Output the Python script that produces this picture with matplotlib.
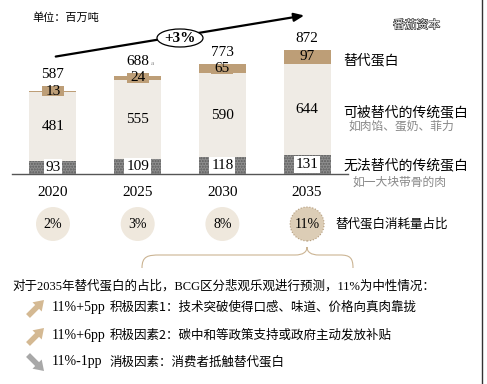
import matplotlib
matplotlib.use("Agg")
import matplotlib.pyplot as plt
from matplotlib.patches import Ellipse, Polygon, PathPatch
from matplotlib.path import Path
import matplotlib.patheffects as pe

# ---------------- data ----------------
years = ["2020", "2025", "2030", "2035"]
non_sub = [93, 109, 118, 131]          # 无法替代的传统蛋白
subst_trad = [481, 555, 590, 644]      # 可被替代的传统蛋白
alt_protein = [13, 24, 65, 97]         # 替代蛋白
totals = [587, 688, 773, 872]
share_labels = ["2%", "3%", "8%", "11%"]
cagr_label = "+3%"
series_labels = ["替代蛋白", "可被替代的传统蛋白", "无法替代的传统蛋白"]
series_sub = ["", "如肉馅、蛋奶、菲力", "如一大块带骨的肉"]
share_title = "替代蛋白消耗量占比"
note_title = "对于2035年替代蛋白的占比，BCG区分悲观乐观进行预测，11%为中性情况："
scen_vals = ["11%+5pp", "11%+6pp", "11%-1pp"]
scen_text = ["积极因素1：技术突破使得口感、味道、价格向真肉靠拢",
             "积极因素2：碳中和等政策支持或政府主动发放补贴",
             "消极因素：消费者抵触替代蛋白"]
scen_up = [True, True, False]

SERIF = ["Liberation Serif", "Noto Sans CJK SC"]
CJK = ["Noto Sans CJK SC", "DejaVu Sans"]
TAN = "#bd9e77"
LIGHT = "#efebe5"
GRAYC = "#8e8e8e"

W, H = 487, 384
fig = plt.figure(figsize=(W / 100, H / 100), dpi=100)
fig.patch.set_facecolor("white")

pxu = 0.1422
x0, dx = 53.0, 84.7
base_px = 174.0
ax = fig.add_axes([0, (H - base_px) / H, 1, base_px / H])
ax.set_xlim(-x0 / dx, (W - x0) / dx)
ax.set_ylim(0, base_px / pxu)
ax.axis("off")

xs = list(range(len(years)))
bw = 47 / dx
ax.bar(xs, non_sub, width=bw, color=GRAYC, hatch="......", edgecolor="#5c5c5c", lw=0)
ax.bar(xs, subst_trad, bottom=non_sub, width=bw, color=LIGHT, lw=0)
b2 = [a + b for a, b in zip(non_sub, subst_trad)]
ax.bar(xs, alt_protein, bottom=b2, width=bw, color=TAN, lw=0)

minh = 10 / pxu
for i in xs:
    ax.text(i, non_sub[i] / 2, str(non_sub[i]), ha="center", va="center",
            fontsize=11, family=SERIF,
            bbox=dict(boxstyle="square,pad=0.12", fc="white", ec="none"))
    ax.text(i, non_sub[i] + subst_trad[i] / 2, str(subst_trad[i]), ha="center",
            va="center", fontsize=11, family=SERIF)
    c = b2[i] + alt_protein[i] / 2
    hbox = max(alt_protein[i], minh)
    ax.bar(i, hbox, bottom=c - hbox / 2, width=22 / dx, color=TAN, lw=0)
    ax.text(i, c, str(alt_protein[i]), ha="center", va="center",
            fontsize=11, family=SERIF)
    top = max(totals[i], c + hbox / 2)
    ax.text(i, top + 5 / pxu, str(totals[i]), ha="center", va="bottom",
            fontsize=11, family=SERIF)
    ax.text(i, -18 / pxu, years[i], ha="center", va="center",
            fontsize=11, family=SERIF)
    fc = "#dccdb6" if i == len(xs) - 1 else "#efe8dd"
    ec = "#b49c7c" if i == len(xs) - 1 else "none"
    ax.scatter([i], [-50 / pxu], s=(17 * 0.72 * 2) ** 2, color=fc,
               edgecolors=ec, linewidths=0.8, linestyle=":", clip_on=False, zorder=3)
    ax.text(i, -50 / pxu, share_labels[i], ha="center", va="center",
            fontsize=10, family=SERIF, zorder=4)

ax.annotate("a", (1, totals[1]), xytext=(15, 13), textcoords="offset pixels",
            fontsize=5, color="#888888", family=SERIF, ha="center", va="center")

ov = fig.add_axes([0, 0, 1, 1])
ov.set_xlim(0, W)
ov.set_ylim(H, 0)
ov.axis("off")
ov.patch.set_alpha(0)

ov.plot([12, 348], [base_px, base_px], color="#555555", lw=1)
ov.plot([482, 482], [0, H], color="#333333", lw=1)

ov.text(32, 18, "单位：百万吨", fontsize=8, family=CJK, va="center", ha="left")
ov.text(393, 25, "番茄资本", fontsize=8.5, family=CJK, va="center", ha="left",
        color="white", path_effects=[pe.withStroke(linewidth=0.8, foreground="#222222")])

ov.annotate("", xy=(307, 15), xytext=(53, 57),
            arrowprops=dict(arrowstyle="-|>,head_length=0.6,head_width=0.25",
                            color="black", lw=1.6))
ov.add_patch(Ellipse((180, 38), 46, 18, fc="white", ec="black", lw=0.9, zorder=5))
ov.text(180, 38, cagr_label, ha="center", va="center", fontsize=11,
        fontweight="bold", family=SERIF, zorder=6)

ov.text(343, 60, series_labels[0], fontsize=10, family=CJK, va="center")
ov.text(343, 112, series_labels[1], fontsize=10, family=CJK, va="center")
ov.text(348, 126, series_sub[1], fontsize=8.5, family=CJK, va="center", color="#888888")
ov.text(343, 165, series_labels[2], fontsize=10, family=CJK, va="center")
ov.text(352, 182, series_sub[2], fontsize=8.5, family=CJK, va="center", color="#888888")
ov.text(335, 224, share_title, fontsize=9, family=CJK, va="center")

verts = [(142, 268), (142, 256), (148, 255), (160, 255),
         (295, 255), (303, 255), (307, 252), (307, 247),
         (307, 252), (311, 255), (319, 255),
         (340, 255), (350, 255), (353, 258), (353, 268)]
codes = [Path.MOVETO, Path.CURVE4, Path.CURVE4, Path.CURVE4,
         Path.LINETO, Path.CURVE4, Path.CURVE4, Path.CURVE4,
         Path.CURVE4, Path.CURVE4, Path.CURVE4,
         Path.LINETO, Path.CURVE4, Path.CURVE4, Path.CURVE4]
ov.add_patch(PathPatch(Path(verts, codes), fc="none", ec="#cbb493", lw=0.8))


def thick_arrow(axx, xc, yc, up, color, size=16, shaft=5.5, head=13):
    # arrow pointing to upper-right (up) or lower-right (down), in pixel coords
    import numpy as np
    d = np.array([1.0, -1.0]) if up else np.array([1.0, 1.0])
    d = d / np.linalg.norm(d)
    n = np.array([-d[1], d[0]])
    L = size * 1.414
    start = np.array([xc, yc]) - d * L / 2
    tip = start + d * L
    hb = tip - d * (head * 0.75)
    pts = [start + n * shaft / 2, hb + n * shaft / 2, hb + n * head / 2, tip,
           hb - n * head / 2, hb - n * shaft / 2, start - n * shaft / 2]
    axx.add_patch(Polygon(pts, closed=True, fc=color, ec="none"))


ov.text(12, 286, note_title, fontsize=9, family=SERIF, va="center")
rows_y = [307, 335, 362]
for y, v, t, up in zip(rows_y, scen_vals, scen_text, scen_up):
    thick_arrow(ov, 36, y + 1, up, "#d4b993" if up else "#a8a8a8")
    ov.text(52, y, v, fontsize=10, family=SERIF, va="center")
    ov.text(110, y, t, fontsize=9, family=CJK, va="center")

fig.savefig("out.png", dpi=100, facecolor="white")
